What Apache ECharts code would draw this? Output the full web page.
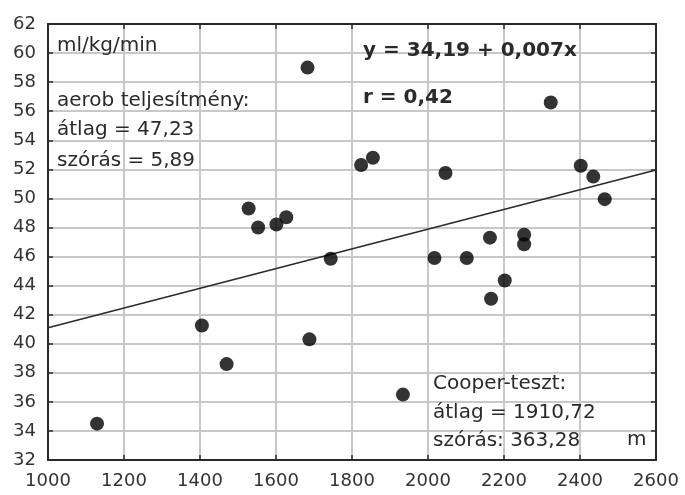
<!DOCTYPE html>
<html>
<head>
<meta charset="utf-8">
<script src="https://cdn.jsdelivr.net/npm/echarts@6/dist/echarts.min.js"></script>
<style>
  html, body { margin: 0; padding: 0; background: #fff; }
  #chart { width: 685px; height: 495px; }
</style>
</head>
<body>
<div id="chart"></div>
<script>
// Cooper-teszt (m) vs aerob teljesítmény (ml/kg/min)
const cooperM = [1129, 1405, 1470, 1688, 1744, 1683, 2323, 1824, 1855, 2046, 2402, 2435, 2465,
  1528, 1553, 1601, 1627, 2163, 2253, 2253, 2017, 2102, 2202, 2166, 1934]
const aerob = [34.5, 41.25, 38.6, 40.3, 45.85, 59.0, 56.6, 52.3, 52.8, 51.75, 52.25, 51.5, 49.95,
  49.3, 48.0, 48.2, 48.7, 47.3, 47.5, 46.85, 45.9, 45.9, 44.35, 43.1, 36.5]
// regression line, read at both ends of the x range
const fitX = [1000, 2600]
const fitY = [41.1, 51.95]

const leftNotes = ['ml/kg/min', 'aerob teljesítmény:', 'átlag = 47,23', 'szórás = 5,89']
const eqNotes = ['y = 34,19 + 0,007x', 'r = 0,42']
const cooperNotes = ['Cooper-teszt:', 'átlag = 1910,72', 'szórás: 363,28']

const font = 'DejaVu Sans'
const dark = '#2a2a2a'
const gridCol = '#c8c8c8'

const chart = echarts.init(document.getElementById('chart'))

const textEl = (x, y, s, bold) => ({
  type: 'text', left: x, top: y - 12, z: 10,
  style: {text: s, font: (bold ? 'bold ' : '') + '20px "' + font + '"', fill: dark}
})

const graphic = [
  textEl(57, 48, leftNotes[0]),
  textEl(57, 103, leftNotes[1]),
  textEl(57, 132, leftNotes[2]),
  textEl(57, 163, leftNotes[3]),
  textEl(363, 53, eqNotes[0], true),
  textEl(363, 100, eqNotes[1], true),
  textEl(433, 386, cooperNotes[0]),
  textEl(433, 415, cooperNotes[1]),
  textEl(433, 443, cooperNotes[2]),
  textEl(627, 442, 'm')
]

// main axes: labels + grid lines; frame axes (top/right) repeat them without labels
const xMain = {
  type: 'value', min: 1000, max: 2600, interval: 200,
  axisLine: {show: true, onZero: false, lineStyle: {color: dark, width: 2}},
  axisTick: {show: true, inside: true, length: 5, lineStyle: {color: dark, width: 1.5}},
  axisLabel: {margin: 12, fontFamily: font, fontSize: 18, color: '#333', formatter: v => String(v)},
  splitLine: {show: true, lineStyle: {color: gridCol, width: 2}}
}
const yMain = {
  type: 'value', min: 32, max: 62, interval: 2,
  axisLine: {show: true, onZero: false, lineStyle: {color: dark, width: 2}},
  axisTick: {show: true, inside: true, length: 5, lineStyle: {color: dark, width: 1.5}},
  axisLabel: {margin: 12, fontFamily: font, fontSize: 18, color: '#333'},
  splitLine: {show: true, lineStyle: {color: gridCol, width: 2}}
}

chart.setOption({
  animation: false,
  grid: {left: 48, right: 29, top: 24, bottom: 35},
  xAxis: [
    xMain,
    Object.assign({}, xMain, {position: 'top', axisLabel: {show: false}})
  ],
  yAxis: [
    yMain,
    Object.assign({}, yMain, {position: 'right', axisLabel: {show: false}})
  ],
  series: [
    {
      type: 'line',
      data: fitX.map((x, i) => [x, fitY[i]]),
      symbol: 'none',
      lineStyle: {color: dark, width: 1.5},
      z: 2
    },
    {
      type: 'scatter',
      data: cooperM.map((x, i) => [x, aerob[i]]),
      symbolSize: 14,
      itemStyle: {color: '#000'},
      z: 3
    }
  ],
  graphic: graphic
})
</script>
</body>
</html>
